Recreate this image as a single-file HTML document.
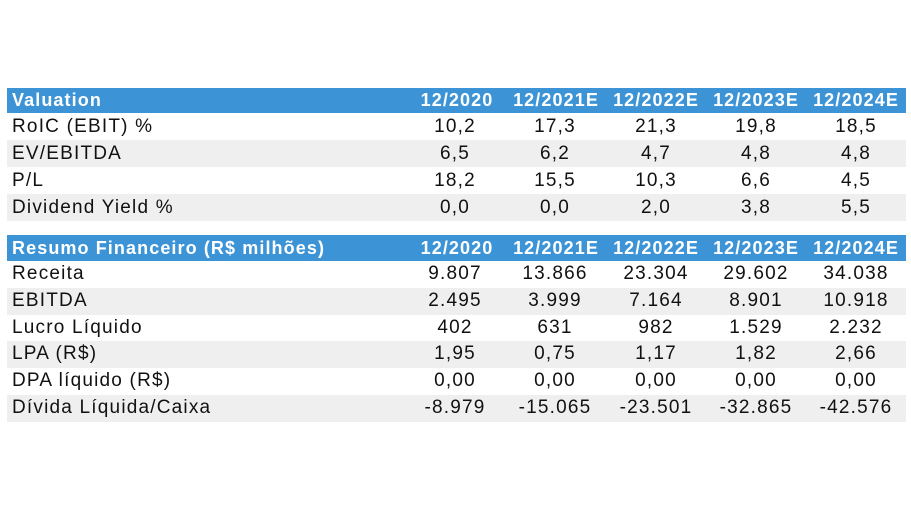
<!DOCTYPE html>
<html><head><meta charset="utf-8"><style>
body{margin:0;width:911px;height:512px;background:#fff;position:relative;overflow:hidden;font-family:"Liberation Sans",Arial,sans-serif;}
.row{position:absolute;left:7px;width:899px;}
.hdr{background:#3c94d7;color:#fff;font-weight:bold;font-size:18px;letter-spacing:1.1px;}
.gray{background:#efefef;}
.row span{position:absolute;white-space:nowrap;}
.lab{left:5px;}
.num{width:120px;text-align:center;}
.data{font-size:19px;color:#111;letter-spacing:1.2px;}
</style></head><body>
<div id="t"></div>
<script>
const valCols=["12/2020","12/2021E","12/2022E","12/2023E","12/2024E"];
const valRows=[["RoIC (EBIT) %","10,2","17,3","21,3","19,8","18,5"],["EV/EBITDA","6,5","6,2","4,7","4,8","4,8"],["P/L","18,2","15,5","10,3","6,6","4,5"],["Dividend Yield %","0,0","0,0","2,0","3,8","5,5"]];
const finRows=[["Receita","9.807","13.866","23.304","29.602","34.038"],["EBITDA","2.495","3.999","7.164","8.901","10.918"],["Lucro Líquido","402","631","982","1.529","2.232"],["LPA (R$)","1,95","0,75","1,17","1,82","2,66"],["DPA líquido (R$)","0,00","0,00","0,00","0,00","0,00"],["Dívida Líquida/Caixa","-8.979","-15.065","-23.501","-32.865","-42.576"]];
const hdrCenter=[457,556,656,756,856];
const valCenter=[455,555,656,756,856];
const t=document.getElementById('t');
function addRow(top,h,cls,cells,centers,name){
  const r=document.createElement('div');
  
  
  r.className='row '+cls;r.style.top=top+'px';r.style.height=h+'px';r.style.lineHeight=h+'px';
  cells.forEach((c,i)=>{const s=document.createElement('span');
    
    
    s.textContent=c;
    if(i==0)s.className='lab';else{s.className='num';s.style.left=(centers[i-1]-7-60)+'px';}
    r.appendChild(s);});
  t.appendChild(r);
}
addRow(88,25,'hdr',["Valuation"].concat(valCols),hdrCenter,'valuation-header');
let y=113;
valRows.forEach((v,i)=>{addRow(y,27,'data'+(i%2?' gray':''),v,valCenter,'valuation-row');y+=27;});
addRow(235,26,'hdr',["Resumo Financeiro (R$ milhões)"].concat(valCols),hdrCenter,'financial-header');
y=261;
finRows.forEach((v,i)=>{addRow(y,26.8,'data'+(i%2?' gray':''),v,valCenter,'financial-row');y+=26.8;});
</script>
</body></html>
